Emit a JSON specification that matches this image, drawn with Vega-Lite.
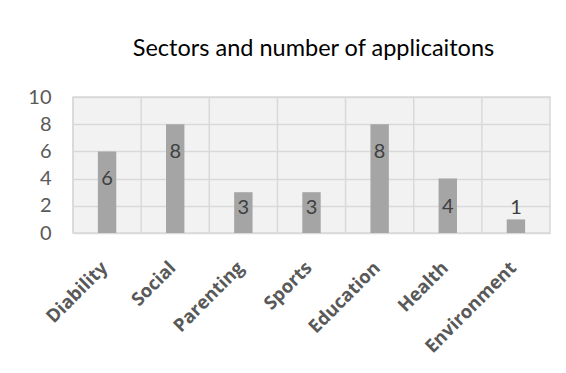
{
  "$schema": "https://vega.github.io/schema/vega-lite/v6.json",
  "width": 477,
  "height": 136,
  "autosize": "none",
  "padding": {"left": 73, "top": 97, "right": 16, "bottom": 140},
  "background": "white",
  "title": {
    "text": "Sectors and number of applicaitons",
    "font": "Lato",
    "fontSize": 23.5,
    "fontWeight": "normal",
    "color": "#000000",
    "anchor": "middle",
    "dx": 2,
    "offset": 27
  },
  "config": {
    "view": {"stroke": "#D9D9D9", "strokeWidth": 1.5, "fill": "#F2F2F2"},
    "axisY": {
      "grid": true,
      "gridColor": "#D9D9D9",
      "gridWidth": 1.5,
      "domain": false,
      "ticks": false,
      "labelOverlap": false,
      "labelFont": "Lato",
      "labelFontSize": 20,
      "labelColor": "#595959",
      "labelPadding": 22
    }
  },
  "data": {
    "values": [
      {"sector": "Diability", "count": 6},
      {"sector": "Social", "count": 8},
      {"sector": "Parenting", "count": 3},
      {"sector": "Sports", "count": 3},
      {"sector": "Education", "count": 8},
      {"sector": "Health", "count": 4},
      {"sector": "Environment", "count": 1}
    ]
  },
  "encoding": {
    "x": {
      "field": "sector",
      "type": "nominal",
      "sort": null,
      "scale": {"paddingInner": 0, "paddingOuter": 0},
      "axis": {
        "title": null,
        "grid": false,
        "domain": false,
        "ticks": false,
        "labelAngle": -45,
        "labelFont": "Open Sans",
        "labelFontWeight": "bold",
        "labelFontSize": 18.5,
        "labelColor": "#595959",
        "labelPadding": 25,
        "labelOffset": -9
      }
    }
  },
  "layer": [
    {
      "mark": {"type": "rule", "color": "#D9D9D9", "strokeWidth": 1.5},
      "encoding": {
        "x": {"field": "sector", "type": "nominal", "sort": null, "bandPosition": 0}
      }
    },
    {
      "mark": {"type": "bar", "color": "#A5A5A5", "width": {"band": 0.27}},
      "encoding": {
        "y": {
          "field": "count",
          "type": "quantitative",
          "scale": {"domain": [0, 10]},
          "axis": {"title": null, "values": [0, 2, 4, 6, 8, 10]}
        }
      }
    },
    {
      "transform": [{"filter": "datum.count >= 4"}],
      "mark": {"type": "text", "dy": 28, "font": "Lato", "fontSize": 20, "color": "#404040"},
      "encoding": {
        "y": {"field": "count", "type": "quantitative", "scale": {"domain": [0, 10]}, "axis": {"title": null, "values": [0, 2, 4, 6, 8, 10]}},
        "text": {"field": "count", "type": "quantitative"}
      }
    },
    {
      "transform": [{"filter": "datum.count < 4"}],
      "mark": {"type": "text", "font": "Lato", "fontSize": 20, "color": "#404040"},
      "encoding": {
        "y": {"datum": 1.85, "type": "quantitative", "scale": {"domain": [0, 10]}, "axis": {"title": null, "values": [0, 2, 4, 6, 8, 10]}},
        "text": {"field": "count", "type": "quantitative"}
      }
    }
  ]
}
